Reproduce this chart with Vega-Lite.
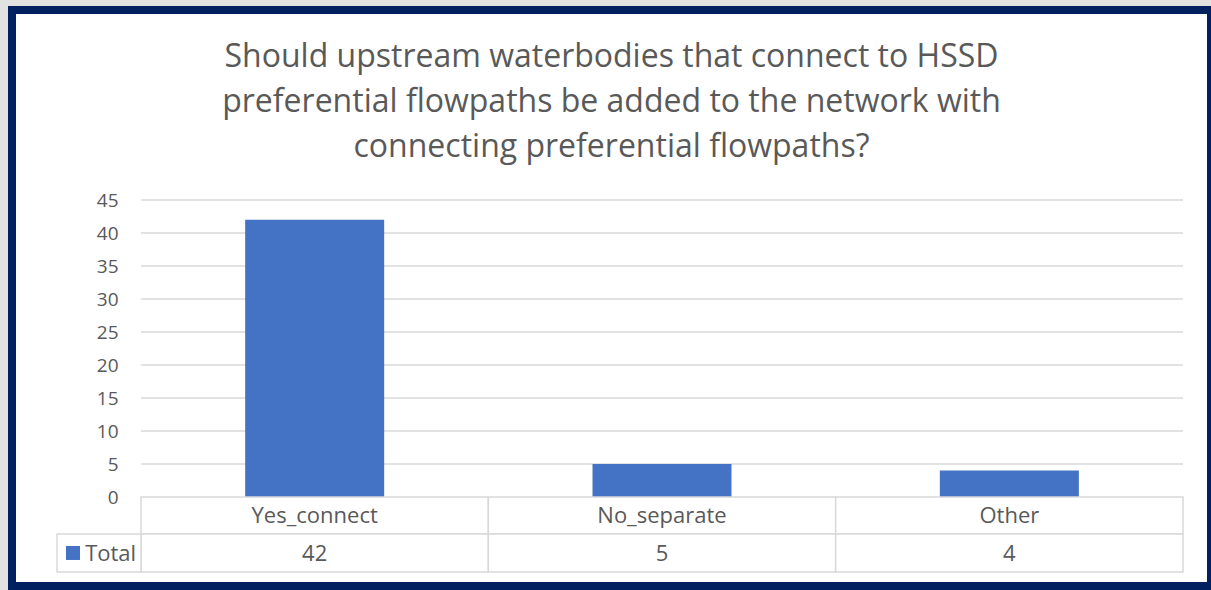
{
  "$schema": "https://vega.github.io/schema/vega-lite/v6.json",
  "width": 1199,
  "height": 576,
  "autosize": {"type": "none"},
  "padding": {"left": 12, "top": 10, "right": 0, "bottom": 4},
  "background": "#e2e2e2",
  "config": {
    "view": {"fill": "white", "stroke": "#002060", "strokeWidth": 8},
    "font": "Open Sans",
    "text": {"font": "Open Sans", "color": "#595959", "fontSize": 22}
  },
  "title": {
    "text": [
      "Should upstream waterbodies that connect to HSSD",
      "preferential flowpaths be added to the network with",
      "connecting preferential flowpaths?"
    ],
    "font": "Open Sans",
    "fontSize": 32,
    "fontWeight": "normal",
    "color": "#595959",
    "lineHeight": 45,
    "anchor": "middle",
    "baseline": "top",
    "offset": 0,
    "dy": 154
  },
  "datasets": {
    "answers": [
      {"answer": "Yes_connect", "idx": 0, "count": 42},
      {"answer": "No_separate", "idx": 1, "count": 5},
      {"answer": "Other", "idx": 2, "count": 4}
    ],
    "ticks": [
      {"tick": 5}, {"tick": 10}, {"tick": 15}, {"tick": 20}, {"tick": 25},
      {"tick": 30}, {"tick": 35}, {"tick": 40}, {"tick": 45}
    ],
    "series": [{"series": "Total"}]
  },
  "layer": [
    {
      "data": {"name": "ticks"},
      "mark": {"type": "rule", "color": "#d9d9d9", "strokeWidth": 1.5},
      "encoding": {
        "y": {
          "field": "tick",
          "type": "quantitative",
          "scale": {"domain": [-13.485, 73.79], "nice": false, "zero": false, "padding": 0},
          "axis": {
            "title": null,
            "values": [0, 5, 10, 15, 20, 25, 30, 35, 40, 45],
            "domain": false,
            "ticks": false,
            "grid": false,
            "labelPadding": -106,
            "labelFont": "Open Sans",
            "labelFontSize": 19,
            "labelColor": "#595959",
            "labelOverlap": false
          }
        },
        "x": {
          "datum": -0.5,
          "type": "quantitative",
          "scale": {"domain": [-0.8714, 2.5806], "nice": false, "zero": false, "padding": 0},
          "axis": null
        },
        "x2": {"datum": 2.5}
      }
    },
    {
      "data": {"name": "answers"},
      "mark": {"type": "bar", "width": 139, "color": "#4472C4"},
      "encoding": {
        "x": {"field": "idx", "type": "quantitative", "axis": null},
        "y": {"field": "count", "type": "quantitative", "axis": {"title": null}},
        "y2": {"datum": 0}
      }
    },
    {
      "data": {"name": "answers"},
      "mark": {"type": "bar", "width": 347.33, "fill": "white", "stroke": "#d9d9d9", "strokeWidth": 1.5},
      "encoding": {
        "x": {"field": "idx", "type": "quantitative", "axis": null},
        "y": {"datum": 0, "type": "quantitative", "axis": {"title": null}},
        "y2": {"datum": -5.606}
      }
    },
    {
      "data": {"name": "answers"},
      "mark": {"type": "bar", "width": 347.33, "fill": "white", "stroke": "#d9d9d9", "strokeWidth": 1.5},
      "encoding": {
        "x": {"field": "idx", "type": "quantitative", "axis": null},
        "y": {"datum": -5.606, "type": "quantitative", "axis": {"title": null}},
        "y2": {"datum": -11.36}
      }
    },
    {
      "data": {"name": "series"},
      "mark": {"type": "rect", "fill": "white", "stroke": "#d9d9d9", "strokeWidth": 1.5},
      "encoding": {
        "x": {"datum": -0.7418, "type": "quantitative", "axis": null},
        "x2": {"datum": -0.5},
        "y": {"datum": -5.606, "type": "quantitative", "axis": {"title": null}},
        "y2": {"datum": -11.36}
      }
    },
    {
      "data": {"name": "answers"},
      "mark": {"type": "text", "align": "center", "baseline": "middle"},
      "encoding": {
        "x": {"field": "idx", "type": "quantitative", "axis": null},
        "y": {"datum": -2.95, "type": "quantitative", "axis": {"title": null}},
        "text": {"field": "answer"}
      }
    },
    {
      "data": {"name": "answers"},
      "mark": {"type": "text", "align": "center", "baseline": "middle"},
      "encoding": {
        "x": {"field": "idx", "type": "quantitative", "axis": null},
        "y": {"datum": -8.6, "type": "quantitative", "axis": {"title": null}},
        "text": {"field": "count"}
      }
    },
    {
      "data": {"name": "series"},
      "mark": {"type": "point", "shape": "square", "filled": true, "size": 196, "color": "#4472C4", "opacity": 1},
      "encoding": {
        "x": {"datum": -0.6958, "type": "quantitative", "axis": null},
        "y": {"datum": -8.48, "type": "quantitative", "axis": {"title": null}}
      }
    },
    {
      "data": {"name": "series"},
      "mark": {"type": "text", "align": "left", "baseline": "middle"},
      "encoding": {
        "x": {"datum": -0.6608, "type": "quantitative", "axis": null},
        "y": {"datum": -8.6, "type": "quantitative", "axis": {"title": null}},
        "text": {"field": "series"}
      }
    }
  ]
}
